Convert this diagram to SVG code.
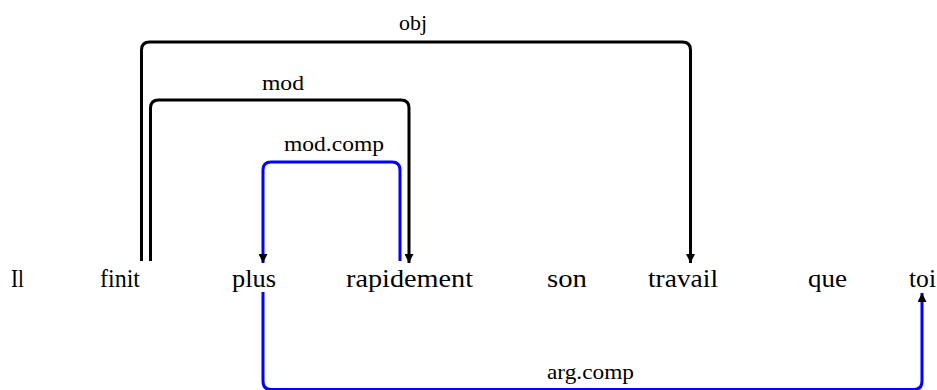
<svg xmlns="http://www.w3.org/2000/svg" width="937" height="390" viewBox="0 0 937 390">
<style>
.w{font-family:"Liberation Serif","DejaVu Serif",serif;font-size:25px;fill:#000}
.l{font-family:"Liberation Serif","DejaVu Serif",serif;font-size:21px;fill:#000}
.e{fill:none;stroke-width:3;stroke-linejoin:round}
.k{stroke:#000}
.b{stroke:#0000ff}
</style>
<defs>
<marker id="arr" viewBox="0 0 10 10" refX="10" refY="5" markerUnits="userSpaceOnUse" markerWidth="10" markerHeight="9" orient="auto">
<path d="M0,0 L10,5 L0,10 z" fill="#000"/>
</marker>
</defs>
<rect width="937" height="390" fill="#fff"/>
<g id="connectors">
<path class="e k" d="M141.5,261 V50 Q141.5,42 149.5,42 H682.5 Q690.5,42 690.5,50 V263" marker-end="url(#arr)"/>
<path class="e k" d="M150.5,261 V108 Q150.5,100 158.5,100 H401 Q409,100 409,108 V263" marker-end="url(#arr)"/>
<path class="e b" d="M400,261 V170 Q400,162 392,162 H271 Q263,162 263,170 V263" marker-end="url(#arr)"/>
<path class="e b" d="M263,292 V381 Q263,389.5 271,389.5 H914 Q922,389.5 922,381 V293" marker-end="url(#arr)"/>
<text class="l" x="399" y="30" textLength="28" lengthAdjust="spacingAndGlyphs">obj</text>
<text class="l" x="262" y="90" textLength="42" lengthAdjust="spacingAndGlyphs">mod</text>
<text class="l" x="284" y="151" textLength="100" lengthAdjust="spacingAndGlyphs">mod.comp</text>
<text class="l" x="547" y="379" textLength="87" lengthAdjust="spacingAndGlyphs">arg.comp</text>
</g>
<g id="w1"><text class="w" x="11" y="287" textLength="13" lengthAdjust="spacingAndGlyphs">Il</text></g>
<g id="w2"><text class="w" x="100" y="287" textLength="40" lengthAdjust="spacingAndGlyphs">finit</text></g>
<g id="w3"><text class="w" x="232" y="287" textLength="44" lengthAdjust="spacingAndGlyphs">plus</text></g>
<g id="w4"><text class="w" x="346" y="287" textLength="127" lengthAdjust="spacingAndGlyphs">rapidement</text></g>
<g id="w5"><text class="w" x="547" y="287" textLength="40" lengthAdjust="spacingAndGlyphs">son</text></g>
<g id="w6"><text class="w" x="648" y="287" textLength="70" lengthAdjust="spacingAndGlyphs">travail</text></g>
<g id="w7"><text class="w" x="808" y="287" textLength="39" lengthAdjust="spacingAndGlyphs">que</text></g>
<g id="w8"><text class="w" x="909" y="287" textLength="27" lengthAdjust="spacingAndGlyphs">toi</text></g>
</svg>
